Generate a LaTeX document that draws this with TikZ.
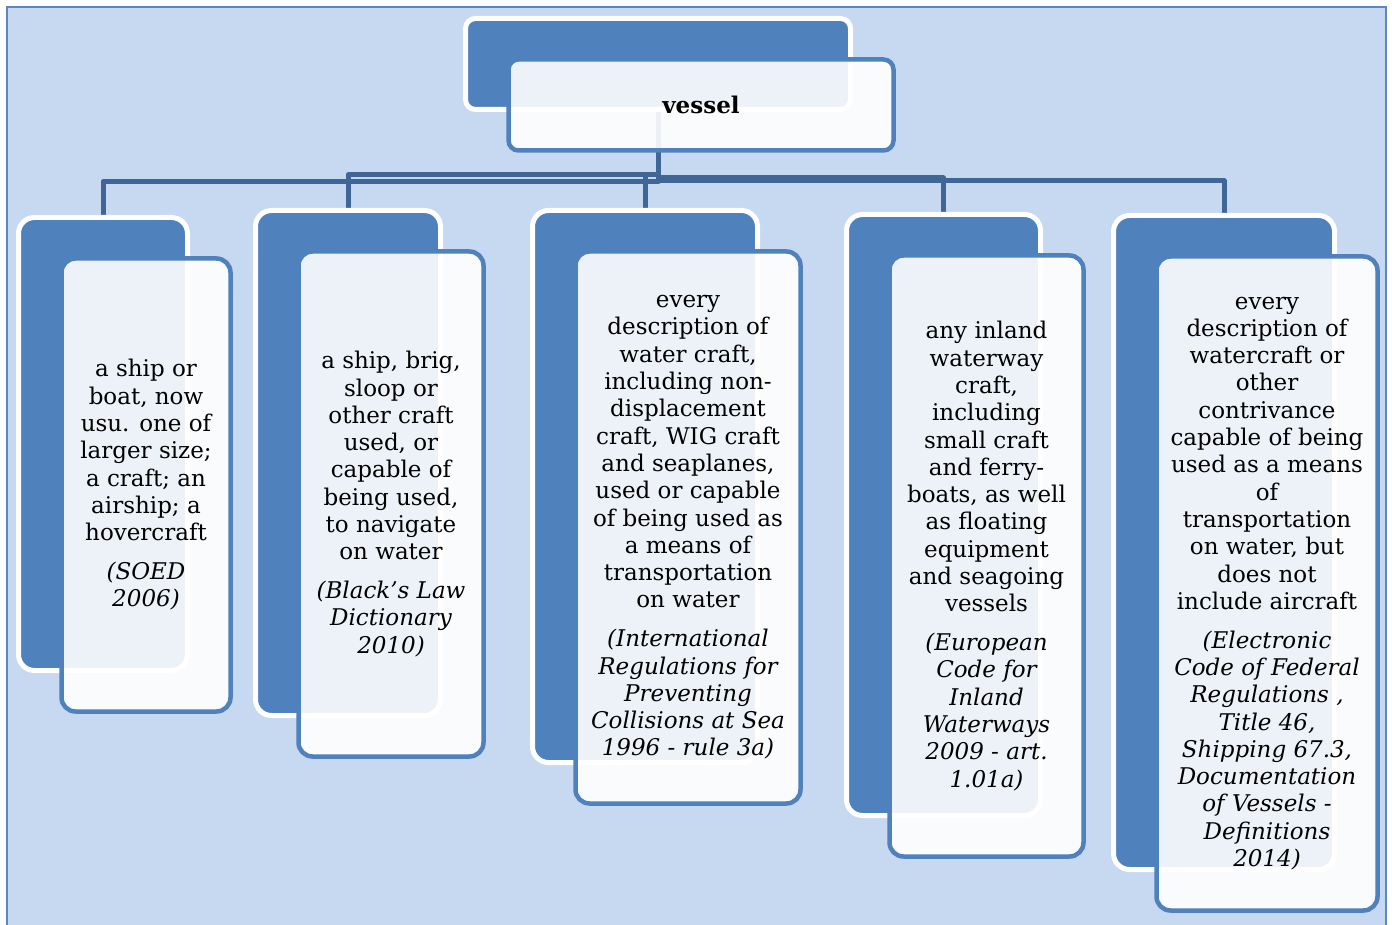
\documentclass[tikz,border=0pt]{standalone}
\usepackage{fontspec}
\setmainfont{DejaVu Serif}
\usetikzlibrary{calc}
\pgfdeclarelayer{backdrop}
\pgfdeclarelayer{links}
\pgfsetlayers{backdrop,links,main}
\definecolor{pagebg}{RGB}{198,217,240}
\definecolor{frameblue}{RGB}{91,135,194}
\definecolor{accent}{RGB}{79,129,189}
\definecolor{linkblue}{RGB}{64,102,152}
% each line of a node is its own group, so the source lines repeat the switch
\newcommand\src{\itshape}

\begin{document}
\begin{tikzpicture}[x=1pt,y=-1pt,
  backcard/.style={draw=white, line width=5pt, fill=accent, rounded corners=16pt,
    inner sep=0pt, outer sep=0pt},
  frontcard/.style={draw=accent, line width=4.5pt, fill=white, fill opacity=0.9,
    text opacity=1, rounded corners=14pt, inner sep=0pt, outer sep=0pt,
    align=center, text=black, font=\fontsize{23}{27.3}\selectfont},
  link/.style={draw=linkblue, line width=5pt, line join=round}
]
\useasboundingbox (0,0) rectangle (1392,925);

% page panel
\begin{pgfonlayer}{backdrop}
  \fill[pagebg] (7,7) rectangle (1386,925);
  \draw[frameblue, line width=2pt] (7,925) -- (7,7) -- (1386,7) -- (1386,925);
\end{pgfonlayer}

% root card
\node[backcard, rounded corners=10pt, minimum width=385, minimum height=91] (vb) at (658,64) {};
\node[frontcard, rounded corners=10pt, minimum width=385, minimum height=91,
  font=\fontsize{23}{27.3}\selectfont\bfseries] (vf) at ([shift={(43,41)}]vb.center) {vessel};

% definition cards
\node[backcard, minimum width=169, minimum height=453] (b1) at (103,444) {};
\node[frontcard, minimum width=169, minimum height=453] (f1) at ([shift={(43,41)}]b1.center)
  {a ship or\\boat, now\\usu. one of\\larger size;\\a craft; an\\airship; a\\hovercraft\\[11.5pt]
   \src (SOED\\\src 2006)};

\node[backcard, minimum width=185, minimum height=505] (b2) at (348,463) {};
\node[frontcard, minimum width=185, minimum height=505] (f2) at ([shift={(43,41)}]b2.center)
  {a ship, brig,\\sloop or\\other craft\\used, or\\capable of\\being used,\\to navigate\\on water\\[11.5pt]
   \src (Black's Law\\\src Dictionary\\\src 2010)};

\node[backcard, minimum width=225, minimum height=552] (b3) at (645,486.5) {};
\node[frontcard, minimum width=225, minimum height=552] (f3) at ([shift={(43,41)}]b3.center)
  {every\\description of\\water craft,\\including non-\\displacement\\craft, WIG craft\\and seaplanes,\\used or capable\\of being used as\\a means of\\transportation\\on water\\[11.5pt]
   \src (International\\\src Regulations for\\\src Preventing\\\src Collisions at Sea\\\src 1996 - rule 3a)};

\node[backcard, minimum width=194, minimum height=601] (b4) at (943.5,515) {};
\node[frontcard, minimum width=194, minimum height=601] (f4) at ([shift={(43,41)}]b4.center)
  {any inland\\waterway\\craft,\\including\\small craft\\and ferry-\\boats, as well\\as floating\\equipment\\and seagoing\\vessels\\[11.5pt]
   \src (European\\\src Code for\\\src Inland\\\src Waterways\\\src 2009 - art.\\\src 1.01a)};

\node[backcard, minimum width=221, minimum height=654] (b5) at (1224,542.5) {};
\node[frontcard, minimum width=221, minimum height=654] (f5) at ([shift={(43,41)}]b5.center)
  {every\\description of\\watercraft or\\other\\contrivance\\capable of being\\used as a means\\of\\transportation\\on water, but\\does not\\include aircraft\\[11.5pt]
   \src (Electronic\\\src Code of Federal\\\src Regulations ,\\\src Title 46,\\\src Shipping 67.3,\\\src Documentation\\\src of Vessels -\\\src Definitions\\\src 2014)};

% tree connectors
\begin{pgfonlayer}{links}
  \coordinate (busA) at (0,181.5);
  \coordinate (busB) at (0,175);
  \coordinate (busC) at (0,178);
  \coordinate (busD) at (0,181);
  \draw[link] (vb.center) -- (vb.center |- busA) -| (b1.north);
  \draw[link] (vb.center |- busB) -| (b2.north);
  \draw[link] (vb.center |- busB) -| (b3.north);
  \draw[link] (vb.center |- busC) -| (b4.north);
  \draw[link] (vb.center |- busD) -| (b5.north);
\end{pgfonlayer}
\end{tikzpicture}
\end{document}
